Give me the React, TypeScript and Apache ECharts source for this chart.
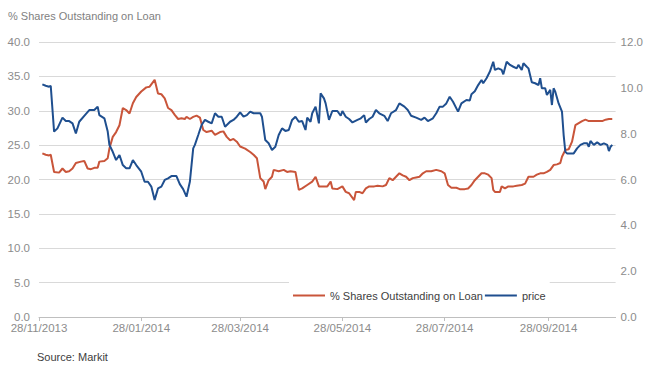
import React, { useEffect, useRef } from "react";
import * as echarts from "echarts";

const START = Date.UTC(2013, 10, 28);
const DAY = 86400000;
const END_DAY = 344;

const tickDates = ["2013-11-28", "2014-01-28", "2014-03-28", "2014-05-28", "2014-07-28", "2014-09-28"];

const leftTicks = { min: 0, max: 40, interval: 5 };
const rightTicks = { min: 0, max: 12, interval: 2 };

// days since 28/11/2013
const loanDays = [2,4,6,7,9,12,14,16,18,20,22,25,27,29,31,33,35,36,39,41,42,44,46,48,50,52,54,56,58,61,64,66,69,71,73,75,77,79,81,83,85,87,88,90,92,94,96,98,100,103,105,108,110,112,114,116,118,120,123,126,128,130,132,134,135,137,139,140,143,146,148,150,153,155,157,160,163,165,167,169,172,174,175,178,181,183,185,188,189,191,193,195,197,200,202,205,207,209,211,213,215,217,219,221,223,225,227,229,231,234,237,240,242,244,246,249,251,254,256,258,260,262,264,266,268,270,271,272,275,276,278,280,283,285,288,290,292,295,297,299,301,303,305,307,309,311,312,314,316,318,319,320,322,324,326,328,332,336,338,340,342];
const loanValues = [23.8,23.6,23.5,23.6,21.1,21.0,21.6,21.1,21.2,21.6,22.4,22.6,22.7,21.6,21.5,21.7,21.7,22.6,22.7,23.1,24.5,26.2,26.9,27.9,30.4,30.1,29.6,31.1,32.0,32.8,33.4,33.5,34.5,32.5,32.4,31.8,30.4,30.1,29.4,28.8,28.9,28.8,29.1,28.8,29.1,29.3,29.0,27.2,26.9,27.1,26.5,26.9,27.0,26.2,25.7,25.9,25.5,24.8,24.5,24.0,23.6,23.1,20.2,19.7,18.6,19.9,20.4,21.4,21.2,21.4,21.1,21.2,21.1,18.5,18.7,19.2,19.7,20.4,19.0,19.0,19.0,19.7,18.7,18.6,19.0,18.2,18.0,17.0,18.2,18.2,18.0,18.7,19.0,19.0,19.1,19.0,19.2,20.2,19.9,20.4,20.9,20.6,20.4,19.9,20.2,20.3,20.4,20.9,21.2,21.2,21.4,21.2,20.9,19.2,18.8,18.8,18.6,18.6,18.7,19.2,19.9,20.4,20.9,20.9,20.7,20.2,18.5,18.2,18.2,19.0,18.7,19.0,19.0,19.1,19.2,19.4,20.4,20.4,20.7,20.9,20.9,21.1,21.4,22.1,22.2,22.4,23.3,24.3,24.4,25.5,26.7,27.9,28.2,28.5,28.7,28.5,28.5,28.5,28.7,28.8,28.8];

const priceDays = [2,4,6,7,9,11,14,16,18,20,22,24,27,30,33,35,36,39,41,42,44,46,48,50,52,54,56,58,61,63,65,67,69,71,73,75,77,79,82,84,86,88,90,92,93,95,97,99,101,103,105,107,109,111,114,116,118,120,122,124,126,128,130,132,133,135,137,139,141,143,145,147,149,151,153,155,157,159,160,162,163,165,167,168,170,171,173,175,178,180,181,183,185,187,190,192,194,195,197,199,201,203,206,208,210,213,215,218,220,222,225,228,230,232,235,237,239,241,243,245,247,250,252,255,257,258,260,262,264,265,267,269,271,272,274,276,277,279,281,283,285,286,288,289,291,292,294,296,298,299,300,302,303,305,306,307,308,310,312,313,314,315,317,319,321,323,325,327,328,329,331,333,335,337,339,340,341,342];
const priceValues = [10.15,10.09,10.05,10.09,8.09,8.23,8.70,8.55,8.55,8.45,8.01,8.52,8.78,9.03,9.03,9.18,8.81,8.67,8.09,7.51,7.21,6.85,7.07,6.63,6.49,6.49,6.85,6.63,6.34,5.90,5.90,5.69,5.11,5.61,5.69,5.98,6.05,6.15,6.15,5.80,5.58,5.25,5.90,7.36,7.51,7.94,8.38,8.60,8.52,8.45,8.89,8.74,8.74,8.30,8.52,8.60,8.74,8.93,8.74,8.81,8.96,8.89,8.89,8.89,8.74,7.72,7.58,7.29,7.43,7.94,8.23,8.12,8.16,8.60,8.74,8.52,8.55,8.16,8.70,8.52,8.89,9.18,8.45,9.76,9.54,9.32,8.60,8.99,8.99,8.78,8.99,8.74,8.64,8.49,8.60,8.67,8.81,8.49,8.64,8.74,9.03,8.89,8.78,8.55,8.89,9.03,9.32,9.18,9.03,8.78,8.70,8.60,8.70,8.55,8.67,8.89,9.18,9.18,9.32,9.61,9.39,8.96,9.32,9.47,9.45,9.72,9.85,10.12,10.34,10.20,10.42,10.71,11.14,10.78,10.85,10.78,10.59,11.14,11.0,10.92,10.85,11.0,10.78,11.07,10.92,10.85,10.24,10.20,10.12,10.42,9.98,9.98,9.69,9.91,9.25,9.98,9.83,9.32,8.96,7.94,7.21,7.14,7.14,7.14,7.36,7.51,7.58,7.58,7.43,7.68,7.51,7.62,7.51,7.58,7.51,7.24,7.43,7.51];

const parseDay = (s: string) => {
  const [y, m, d] = s.split("-").map(Number);
  return Math.round((Date.UTC(y, m - 1, d) - START) / DAY);
};
const fmtDay = (day: number) => {
  const d = new Date(START + Math.round(day) * DAY);
  const dd = String(d.getUTCDate()).padStart(2, "0");
  const mm = String(d.getUTCMonth() + 1).padStart(2, "0");
  return `${dd}/${mm}/${d.getUTCFullYear()}`;
};

const FONT = "Liberation Sans, Arial, sans-serif";

export default function App() {
  const ref = useRef<HTMLDivElement>(null);
  useEffect(() => {
    if (!ref.current) return;
    const chart = echarts.init(ref.current, null, { renderer: "svg" });
    const ticks = tickDates.map(parseDay);
    const loanData = loanDays.map((d, i) => [d, loanValues[i]]);
    const priceData = priceDays.map((d, i) => [d, priceValues[i]]);
    chart.setOption({
      animation: false,
      backgroundColor: "#ffffff",
      textStyle: { fontFamily: FONT },
      title: {
        text: "% Shares Outstanding on Loan",
        left: 3,
        top: 5,
        textStyle: { fontSize: 11, fontWeight: "normal", color: "#7f7f7f", fontFamily: FONT },
      },
      graphic: [
        {
          type: "text",
          left: 37,
          top: 351,
          style: { text: "Source: Markit", fontSize: 11, fill: "#404040", fontFamily: FONT },
        },
      ],
      legend: {
        left: 289,
        top: 280,
        padding: [10, 4, 8, 4],
        backgroundColor: "#ffffff",
        itemGap: 2,
        itemWidth: 32,
        itemHeight: 2,
        icon: "rect",
        textStyle: { fontSize: 11, color: "#404040", fontFamily: FONT },
        data: ["% Shares Outstanding on Loan", "price"],
      },
      grid: { left: 39, right: 29, top: 42, bottom: 48, containLabel: false },
      xAxis: {
        type: "value",
        min: 0,
        max: END_DAY,
        axisLine: { show: true, onZero: false, lineStyle: { color: "#bfbfbf", width: 1 } },
        axisTick: { show: true, length: 4, customValues: ticks, lineStyle: { color: "#bfbfbf" } },
        axisLabel: {
          customValues: ticks,
          formatter: (v: number) => fmtDay(v),
          color: "#8c8c8c",
          fontSize: 11.5,
          margin: 5,
          fontFamily: FONT,
        },
        splitLine: { show: false },
      },
      yAxis: [
        {
          type: "value",
          ...leftTicks,
          axisLine: { show: false },
          axisTick: { show: false },
          axisLabel: { formatter: (v: number) => v.toFixed(1), color: "#8c8c8c", fontSize: 11.5, margin: 9, fontFamily: FONT },
          splitLine: { show: true, lineStyle: { color: "#d9d9d9", width: 1 } },
        },
        {
          type: "value",
          ...rightTicks,
          axisLine: { show: false },
          axisTick: { show: false },
          axisLabel: { formatter: (v: number) => v.toFixed(1), color: "#8c8c8c", fontSize: 11.5, margin: 5, fontFamily: FONT },
          splitLine: { show: false },
        },
      ],
      series: [
        {
          name: "% Shares Outstanding on Loan",
          type: "line",
          yAxisIndex: 0,
          data: loanData,
          showSymbol: false,
          symbol: "none",
          lineStyle: { color: "#c9553a", width: 2 },
          itemStyle: { color: "#c9553a" },
        },
        {
          name: "price",
          type: "line",
          yAxisIndex: 1,
          data: priceData,
          showSymbol: false,
          symbol: "none",
          lineStyle: { color: "#1f4f8f", width: 2 },
          itemStyle: { color: "#1f4f8f" },
        },
      ],
    });
    return () => chart.dispose();
  }, []);
  return <div ref={ref} style={{ width: 646, height: 365, position: "absolute", left: 0, top: 0 }} />;
}
